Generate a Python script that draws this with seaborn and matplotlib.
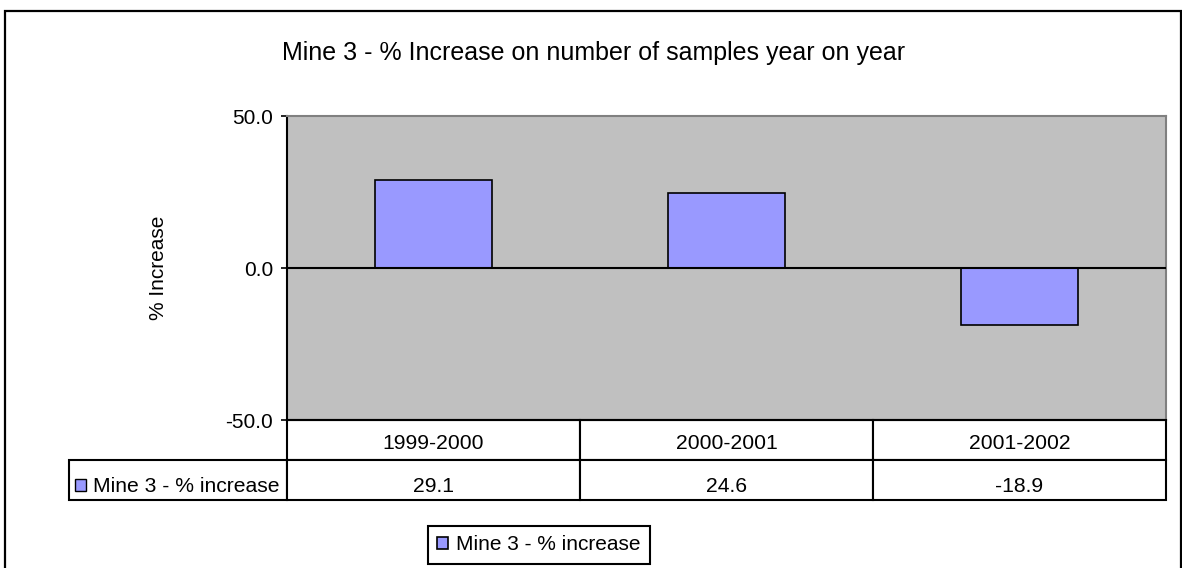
import matplotlib
matplotlib.use("Agg")
import matplotlib.pyplot as plt
from matplotlib.patches import Rectangle
from matplotlib.table import Table
from matplotlib.transforms import Affine2D
import seaborn as sns
import pandas as pd

# Year-on-year change in sample counts for Mine 3
periods = ["1999-2000", "2000-2001", "2001-2002"]
pct_increase = [29.1, 24.6, -18.9]
series_name = "Mine 3 - % increase"
title = "Mine 3 - % Increase on number of samples year on year"
y_label = "% Increase"
y_ticks = [-50.0, 0.0, 50.0]

bar_color = "#9999FF"
plot_bg = "#C0C0C0"

sns.set_style("white")
plt.rcParams["font.family"] = ["Liberation Sans", "DejaVu Sans"]
plt.rcParams.update({
    "text.color": "black",
    "axes.labelcolor": "black",
    "xtick.color": "black",
    "ytick.color": "black",
})

W, H = 1182, 568
fig = plt.figure(figsize=(W / 100, H / 100), dpi=100)

# plot area in pixel terms
left, right, top, bottom = 287, 1166, 116, 420
ax = fig.add_axes([left / W, 1 - bottom / H, (right - left) / W, (bottom - top) / H])
ax.set_facecolor(plot_bg)

df = pd.DataFrame({"period": periods, "value": pct_increase})
sns.barplot(data=df, x="period", y="value", color=bar_color, saturation=1,
            edgecolor="black", linewidth=1.2, width=0.4, ax=ax,
            label=series_name, zorder=3)

ax.axhline(0, color="black", lw=1.5, zorder=4)
ax.set_ylim(-50, 50)
ax.set_xlim(-0.5, len(periods) - 0.5)
ax.set_yticks(y_ticks)
ax.set_yticklabels([f"{t:.1f}" for t in y_ticks], fontsize=15)
ax.tick_params(axis="y", direction="out", length=4.5, width=1.2, color="black",
               pad=5.5, left=True)
ax.tick_params(axis="x", bottom=False, labelbottom=False)
ax.set_xlabel("")
ax.set_ylabel(y_label, fontsize=15)
ax.yaxis.set_label_coords((168 - left) / (right - left), 0.5)

for side in ["left", "bottom"]:
    ax.spines[side].set_color("black")
    ax.spines[side].set_linewidth(1.5)
for side in ["top", "right"]:
    ax.spines[side].set_color("#808080")
    ax.spines[side].set_linewidth(1.5)

# data table under the plot; the bbox covers the value cells, the
# row-label cell hangs off to the left of the plot area
plot_w = right - left
plot_h = bottom - top
tbl_left, tbl_bottom = 69, 500
col_w = 1.0 / len(periods)
row_h = (tbl_bottom - bottom) / plot_h / 2
tbl = Table(ax, bbox=[0, -(tbl_bottom - bottom) / plot_h,
                      1, (tbl_bottom - bottom) / plot_h])
for j, p in enumerate(periods):
    tbl.add_cell(0, j, width=col_w, height=row_h, text=p, loc="center")
label_cell = tbl.add_cell(1, -1, width=(left - tbl_left) / plot_w, height=row_h,
                          text=series_name, loc="left")
label_cell.PAD = 0.11
for j, v in enumerate(pct_increase):
    tbl.add_cell(1, j, width=col_w, height=row_h, text=f"{v:.1f}", loc="center")
tbl.auto_set_font_size(False)
tbl.set_fontsize(15.2)
# cell text sits slightly below the cell middle (pixel offset per row)
row_text_drop = {0: 3.5, 1: 6.0}
for (r, c), cell in tbl.get_celld().items():
    cell.set_edgecolor("black")
    cell.set_linewidth(1.5)
    cell.set_facecolor("white")
    txt = cell.get_text()
    txt.set_color("black")
    txt.set_transform(Affine2D().translate(0, -row_text_drop[r]))
ax.add_table(tbl)

# series key inside the row label cell
fig.add_artist(Rectangle((75 / W, 1 - 491 / H), 11 / W, 12 / H,
                         transform=fig.transFigure, facecolor=bar_color,
                         edgecolor="black", lw=1.0, zorder=10))

# legend below the table
leg = ax.legend(loc="center", bbox_to_anchor=(538.5 / W, 1 - 545 / H),
                bbox_transform=fig.transFigure, fontsize=15, frameon=True,
                fancybox=False, framealpha=1, edgecolor="black",
                handlelength=0.55, handleheight=0.55, handletextpad=0.35,
                borderpad=0.45, borderaxespad=0)
leg.get_frame().set_linewidth(1.5)

fig.text(594 / W, 1 - 53 / H, title, ha="center", va="center", fontsize=18)

# outer chart border
fig.add_artist(Rectangle((5 / W, -0.1), (1181 - 5) / W, 1.1 - 11 / H,
                         transform=fig.transFigure, fill=False,
                         edgecolor="black", lw=1.6))

fig.savefig("out.png", dpi=100)
